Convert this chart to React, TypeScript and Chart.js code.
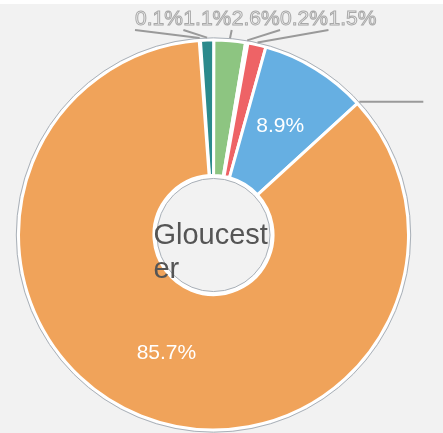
import React, { useEffect, useRef } from "react";
import { Chart, registerables } from "chart.js";

Chart.register(...registerables);

const categories = ["Cat A", "Cat B", "Cat C", "Cat D", "Cat E", "Cat F", "Cat G", "Cat H"];
const values = [0.1, 1.1, 2.6, 0.2, 1.5, 8.9, 0, 85.7];
const colors = ["#9b6fb8", "#2b8a8c", "#8dc581", "#f2d35c", "#ee6366", "#66afe2", "#b0b0b0", "#f0a35a"];
const centerTitle = "Gloucester";

const FONT = '"Liberation Sans", Arial, sans-serif';

const decorPlugin = {
  id: "decor",
  beforeDraw(chart: any) {
    const { ctx, width, height } = chart;
    ctx.save();
    ctx.fillStyle = "#ffffff";
    ctx.fillRect(0, 0, width, height);
    ctx.fillStyle = "#f2f2f2";
    ctx.fillRect(0, 4, width, height - 4);
    ctx.restore();
  },
  afterDatasetsDraw(chart: any) {
    const { ctx } = chart;
    const meta = chart.getDatasetMeta(0);
    const arcs = meta.data;
    if (!arcs.length) return;
    const p = arcs[0].getProps(["x", "y", "outerRadius", "innerRadius"], true);
    const cx = p.x;
    const cy = p.y;
    const outerR = p.outerRadius;
    const innerR = p.innerRadius;
    ctx.save();
    // outer thin ring
    ctx.strokeStyle = "#a9b0b8";
    ctx.lineWidth = 1;
    ctx.beginPath();
    ctx.arc(cx, cy, outerR + 2.2, 0, Math.PI * 2);
    ctx.stroke();
    // inner white + gray ring
    ctx.strokeStyle = "#ffffff";
    ctx.lineWidth = 2;
    ctx.beginPath();
    ctx.arc(cx, cy, innerR - 2, 0, Math.PI * 2);
    ctx.stroke();
    ctx.strokeStyle = "#a9b0b8";
    ctx.lineWidth = 1;
    ctx.beginPath();
    ctx.arc(cx, cy, innerR - 3, 0, Math.PI * 2);
    ctx.stroke();

    // labels
    ctx.font = `21px ${FONT}`;
    let nextX = 135;
    arcs.forEach((arc: any, i: number) => {
      const a = arc.getProps(["startAngle", "endAngle"], true);
      const mid = (a.startAngle + a.endAngle) / 2;
      const v = values[i];
      const txt = v.toFixed(1) + "%";
      if (v >= 3) {
        const r = (outerR + innerR) / 2;
        ctx.fillStyle = "#ffffff";
        ctx.textAlign = "center";
        ctx.textBaseline = "middle";
        ctx.fillText(txt, cx + Math.cos(mid) * r, cy + Math.sin(mid) * r);
        return;
      }
      const sx = cx + Math.cos(mid) * (outerR + 2.5);
      const sy = cy + Math.sin(mid) * (outerR + 2.5);
      ctx.strokeStyle = "#9a9a9a";
      ctx.lineWidth = 2;
      ctx.beginPath();
      if (v === 0) {
        ctx.moveTo(sx, sy);
        ctx.lineTo(sx + 64, sy);
        ctx.stroke();
        return;
      }
      const ex = nextX;
      const ey = 30;
      ctx.moveTo(sx, sy);
      ctx.lineTo(ex, ey);
      ctx.stroke();
      ctx.textAlign = "left";
      ctx.textBaseline = "alphabetic";
      ctx.fillStyle = "#f6f6f6";
      ctx.fillText(txt, ex, 25);
      ctx.strokeStyle = "#a8a8a8";
      ctx.lineWidth = 1;
      ctx.strokeText(txt, ex, 25);
      nextX = ex + ctx.measureText(txt).width + 0.5;
    });

    // center title, wrapped by characters within the hole
    ctx.font = `29px ${FONT}`;
    ctx.fillStyle = "#555555";
    ctx.textAlign = "left";
    ctx.textBaseline = "alphabetic";
    const maxW = (innerR - 1) * 2;
    const lines: string[] = [];
    let cur = "";
    for (const ch of centerTitle) {
      if (ctx.measureText(cur + ch).width > maxW && cur) {
        lines.push(cur);
        cur = ch;
      } else {
        cur += ch;
      }
    }
    if (cur) lines.push(cur);
    const left = cx - (innerR + 0.5);
    lines.forEach((ln, k) => {
      ctx.fillText(ln, left, cy + 9 + k * 34);
    });
    ctx.restore();
  },
};

export default function App() {
  const ref = useRef<HTMLCanvasElement | null>(null);
  useEffect(() => {
    if (!ref.current) return;
    const chart = new Chart(ref.current, {
      type: "doughnut",
      data: {
        labels: categories,
        datasets: [
          {
            data: values,
            backgroundColor: colors,
            borderColor: "#ffffff",
            borderWidth: 3,
            hoverOffset: 0,
          },
        ],
      },
      options: {
        responsive: false,
        animation: false,
        rotation: -4.2,
        radius: 195,
        cutout: 60,
        layout: { padding: { left: 0, right: 16, top: 37, bottom: 0 } },
        plugins: {
          legend: { display: false },
          tooltip: { enabled: false },
        },
        events: [],
      } as any,
      plugins: [decorPlugin],
    });
    return () => chart.destroy();
  }, []);
  return (
    <div style={{ position: "fixed", left: 0, top: 0, width: 443, height: 433, background: "#f2f2f2" }}>
      <canvas ref={ref} width={443} height={433} style={{ display: "block", width: 443, height: 433 }} />
    </div>
  );
}
